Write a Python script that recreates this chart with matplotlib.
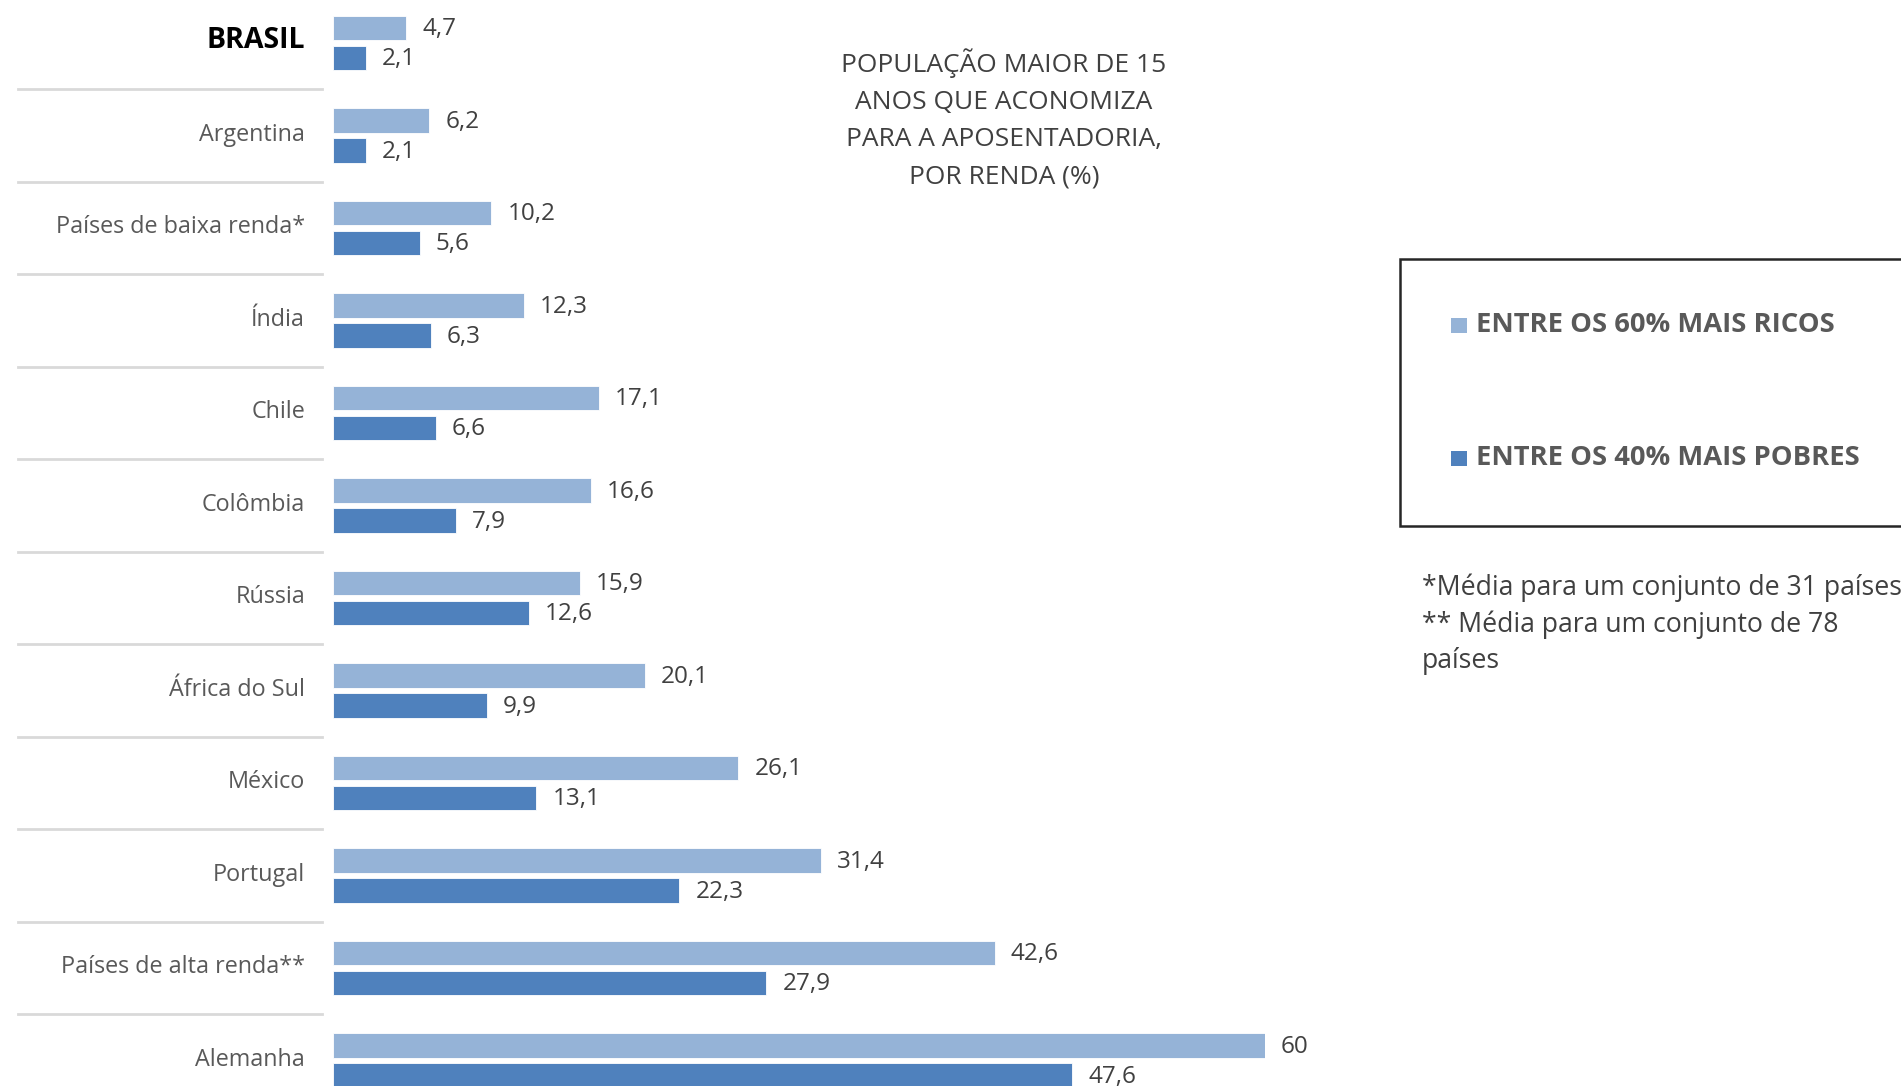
import matplotlib.pyplot as plt
from matplotlib.patches import Rectangle
from matplotlib import transforms

plt.rcParams['font.family'] = ['Open Sans', 'DejaVu Sans']

categorias = ['BRASIL', 'Argentina', 'Países de baixa renda*', 'Índia', 'Chile',
              'Colômbia', 'Rússia', 'África do Sul', 'México', 'Portugal',
              'Países de alta renda**', 'Alemanha']
ricos = [4.7, 6.2, 10.2, 12.3, 17.1, 16.6, 15.9, 20.1, 26.1, 31.4, 42.6, 60]
pobres = [2.1, 2.1, 5.6, 6.3, 6.6, 7.9, 12.6, 9.9, 13.1, 22.3, 27.9, 47.6]

serie_ricos = 'ENTRE OS 60% MAIS RICOS'
serie_pobres = 'ENTRE OS 40% MAIS POBRES'
titulo = 'POPULAÇÃO MAIOR DE 15\nANOS QUE ACONOMIZA\nPARA A APOSENTADORIA,\nPOR RENDA (%)'
notas = '*Média para um conjunto de 31 países\n** Média para um conjunto de 78\npaíses'

cor_clara = '#95B3D7'
cor_escura = '#4F81BD'
cinza = '#595959'

W, H = 1901, 1086
fig = plt.figure(figsize=(W/100, H/100), dpi=100)
ax = fig.add_axes([333/W, 0, 932/W, 1])

# group spacing ~92.5 px, first group centre ~43 px from top
ax.set_ylim((H - 43)/92.5, -43/92.5)
ax.set_xlim(0, 60)
ax.axis('off')

y = list(range(len(categorias)))
off = 0.162
h = 0.265
ax.barh([v - off for v in y], ricos, height=h, color=cor_clara, edgecolor='white', linewidth=0.6)
ax.barh([v + off for v in y], pobres, height=h, color=cor_escura, edgecolor='white', linewidth=0.6)

def fmt(v):
	s = ('%.1f' % v).replace('.', ',')
	if s.endswith(',0'):
		s = s[:-2]
	return s

for i in y:
	ax.annotate(fmt(ricos[i]), (ricos[i], i - off + 0.012), xytext=(16, 0), textcoords='offset pixels',
				va='center', ha='left', fontsize=17.5, color='#404040', annotation_clip=False)
	ax.annotate(fmt(pobres[i]), (pobres[i], i + off + 0.012), xytext=(16, 0), textcoords='offset pixels',
				va='center', ha='left', fontsize=17.5, color='#404040', annotation_clip=False)

# category labels and separators (x in figure coords, y in data)
tr = transforms.blended_transform_factory(fig.transFigure, ax.transData)
for i, c in enumerate(categorias):
	if i == 0:
		ax.text(305/W, i - 0.03, c, transform=tr, ha='right', va='center',
				fontsize=20.5, fontweight='bold', color='black')
	else:
		ax.text(305/W, i - 0.01, c, transform=tr, ha='right', va='center',
				fontsize=16.8, color=cinza)
	if i < len(categorias) - 1:
		ax.plot([18/W, 322/W], [i + 0.5, i + 0.5], transform=tr, color='#d9d9d9',
				linewidth=2, clip_on=False)

fig.text(1004/W, 1 - 119/H, titulo, ha='center', va='center', fontsize=19,
		 color='#404040', linespacing=1.64)

# legend box
fig.patches.append(Rectangle((1400/W, 1 - 526/H), 600/W, 267/H, transform=fig.transFigure,
							 facecolor='white', edgecolor='#262626', linewidth=1.8))
fig.patches.append(Rectangle((1451/W, 1 - 333/H), 16/W, 15/H, transform=fig.transFigure,
							 facecolor=cor_clara, edgecolor='none'))
fig.patches.append(Rectangle((1451/W, 1 - 466/H), 16/W, 15/H, transform=fig.transFigure,
							 facecolor=cor_escura, edgecolor='none'))
fig.text(1476/W, 1 - 325/H, serie_ricos, ha='left', va='center', fontsize=19.7,
		 fontweight='bold', color=cinza)
fig.text(1476/W, 1 - 458/H, serie_pobres, ha='left', va='center', fontsize=19.7,
		 fontweight='bold', color=cinza)

fig.text(1422/W, 1 - 624/H, notas, ha='left', va='center', fontsize=19.2,
		 color='#404040', linespacing=1.38)

fig.savefig('out.png', dpi=100, facecolor='white')
